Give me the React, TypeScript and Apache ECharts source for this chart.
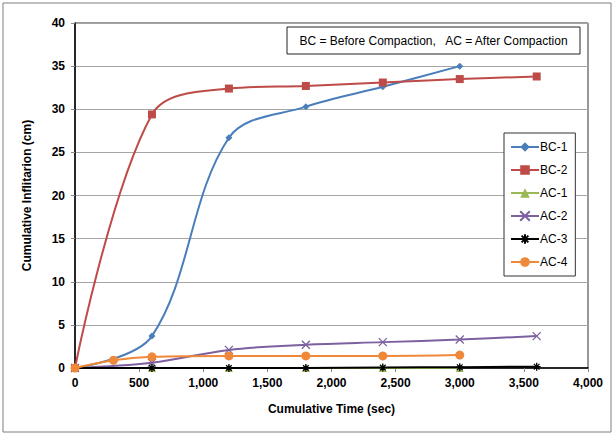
import React, { useEffect, useRef } from "react";
import * as echarts from "echarts";

const times = [0, 600, 1200, 1800, 2400, 3000, 3600];
const bc1 = [0, 3.7, 26.7, 30.3, 32.6, 35.0];
const bc2 = [0, 29.4, 32.4, 32.7, 33.1, 33.5, 33.8];
const ac1 = [0, 0, 0, 0, 0, 0];
const ac2 = [0, 0.6, 2.1, 2.7, 3.0, 3.3, 3.7];
const ac3 = [0, 0, 0, 0, 0.05, 0.1, 0.15];
const ac4Times = [0, 300, 600, 1200, 1800, 2400, 3000];
const ac4 = [0, 0.9, 1.3, 1.4, 1.4, 1.4, 1.5];

const seriesNames = ["BC-1", "BC-2", "AC-1", "AC-2", "AC-3", "AC-4"];
const noteText = "BC = Before Compaction,   AC = After Compaction";

const pair = (xs: number[], ys: number[]) => ys.map((y, i) => [xs[i], y]);

const X_MARK = "path://M0,0L10,10M10,0L0,10";
const STAR_MARK = "path://M5,0L5,10M0,5L10,5M1.5,1.5L8.5,8.5M8.5,1.5L1.5,8.5";

export default function App() {
  const ref = useRef<HTMLDivElement>(null);
  useEffect(() => {
    if (!ref.current) return;
    const chart = echarts.init(ref.current, null, { renderer: "svg" });
    const font = "'Liberation Sans', Arial, sans-serif";
    const mk = (
      name: string,
      data: number[][],
      color: string,
      symbol: string,
      symbolSize: number,
      stroked = false
    ) => ({
      name,
      type: "line",
      data,
      smooth: 0.35,
      symbol,
      symbolSize,
      showSymbol: true,
      lineStyle: { color, width: 2 },
      itemStyle: stroked
        ? { color: "transparent", borderColor: color, borderWidth: 1.3 }
        : { color, borderColor: color, borderWidth: 0 },
      emphasis: { disabled: true },
    });
    chart.setOption({
      animation: false,
      textStyle: { fontFamily: font },
      grid: {
        left: 75,
        right: 615 - 588,
        top: 23,
        bottom: 437 - 368,
        show: true,
        borderColor: "#333",
        borderWidth: 1,
      },
      graphic: [
        {
          type: "rect",
          shape: { x: 3, y: 3, width: 608, height: 429 },
          style: { fill: "none", stroke: "#7f7f7f", lineWidth: 1 },
          silent: true,
        },
        {
          type: "rect",
          shape: { x: 287, y: 27, width: 293, height: 27 },
          style: { fill: "#fff", stroke: "#222", lineWidth: 1 },
          z: 10,
        },
        {
          type: "text",
          x: 433.5,
          y: 40.5,
          style: {
            text: noteText,
            fontFamily: font,
            fontSize: 12,
            fill: "#000",
            align: "center",
            verticalAlign: "middle",
          },
          z: 11,
        },
      ],
      legend: {
        data: seriesNames,
        orient: "vertical",
        left: 504,
        top: 133,
        width: 76,
        height: 160,
        itemGap: 11,
        itemWidth: 28,
        itemHeight: 12,
        padding: [8, 8, 8, 6],
        borderColor: "#333",
        borderWidth: 1,
        backgroundColor: "#fff",
        textStyle: { fontSize: 12, color: "#000", fontFamily: font, padding: [0, 0, 0, -4] },
        selectedMode: false,
      },
      xAxis: {
        type: "value",
        min: 0,
        max: 4000,
        interval: 500,
        name: "Cumulative Time (sec)",
        nameLocation: "middle",
        nameGap: 35,
        nameTextStyle: { fontWeight: "bold", fontSize: 12, color: "#000" },
        axisLine: { lineStyle: { color: "#000", width: 1.5 } },
        axisTick: { show: true, length: 4, lineStyle: { color: "#888" } },
        axisLabel: {
          fontWeight: "bold",
          fontSize: 12,
          color: "#000",
          margin: 9,
          formatter: (v: number) => v.toLocaleString("en-US"),
        },
        splitLine: { show: false },
      },
      yAxis: {
        type: "value",
        min: 0,
        max: 40,
        interval: 5,
        name: "Cumulative Inflitarion (cm)",
        nameLocation: "middle",
        nameGap: 42,
        nameTextStyle: { fontWeight: "bold", fontSize: 12, color: "#000" },
        axisLine: { show: true, lineStyle: { color: "#000", width: 1.5 } },
        axisTick: { show: true, length: 4, lineStyle: { color: "#888" } },
        axisLabel: { fontWeight: "bold", fontSize: 12, color: "#000", margin: 10 },
        splitLine: { show: true, lineStyle: { color: "#a6a6a6", width: 1 } },
      },
      series: [
        mk("BC-1", pair(times, bc1), "#4a7ebb", "diamond", 7),
        mk("BC-2", pair(times, bc2), "#be4b48", "rect", 8),
        mk("AC-1", pair(times, ac1), "#98b954", "triangle", 8),
        mk("AC-2", pair(times, ac2), "#7d60a0", X_MARK, 8, true),
        mk("AC-3", pair(times, ac3), "#000000", STAR_MARK, 8, true),
        mk("AC-4", pair(ac4Times, ac4), "#f0883a", "circle", 9),
      ],
    });
    return () => chart.dispose();
  }, []);
  return (
    <div
      ref={ref}
      style={{ position: "fixed", left: 0, top: 0, width: 615, height: 437, background: "#fff" }}
    />
  );
}
